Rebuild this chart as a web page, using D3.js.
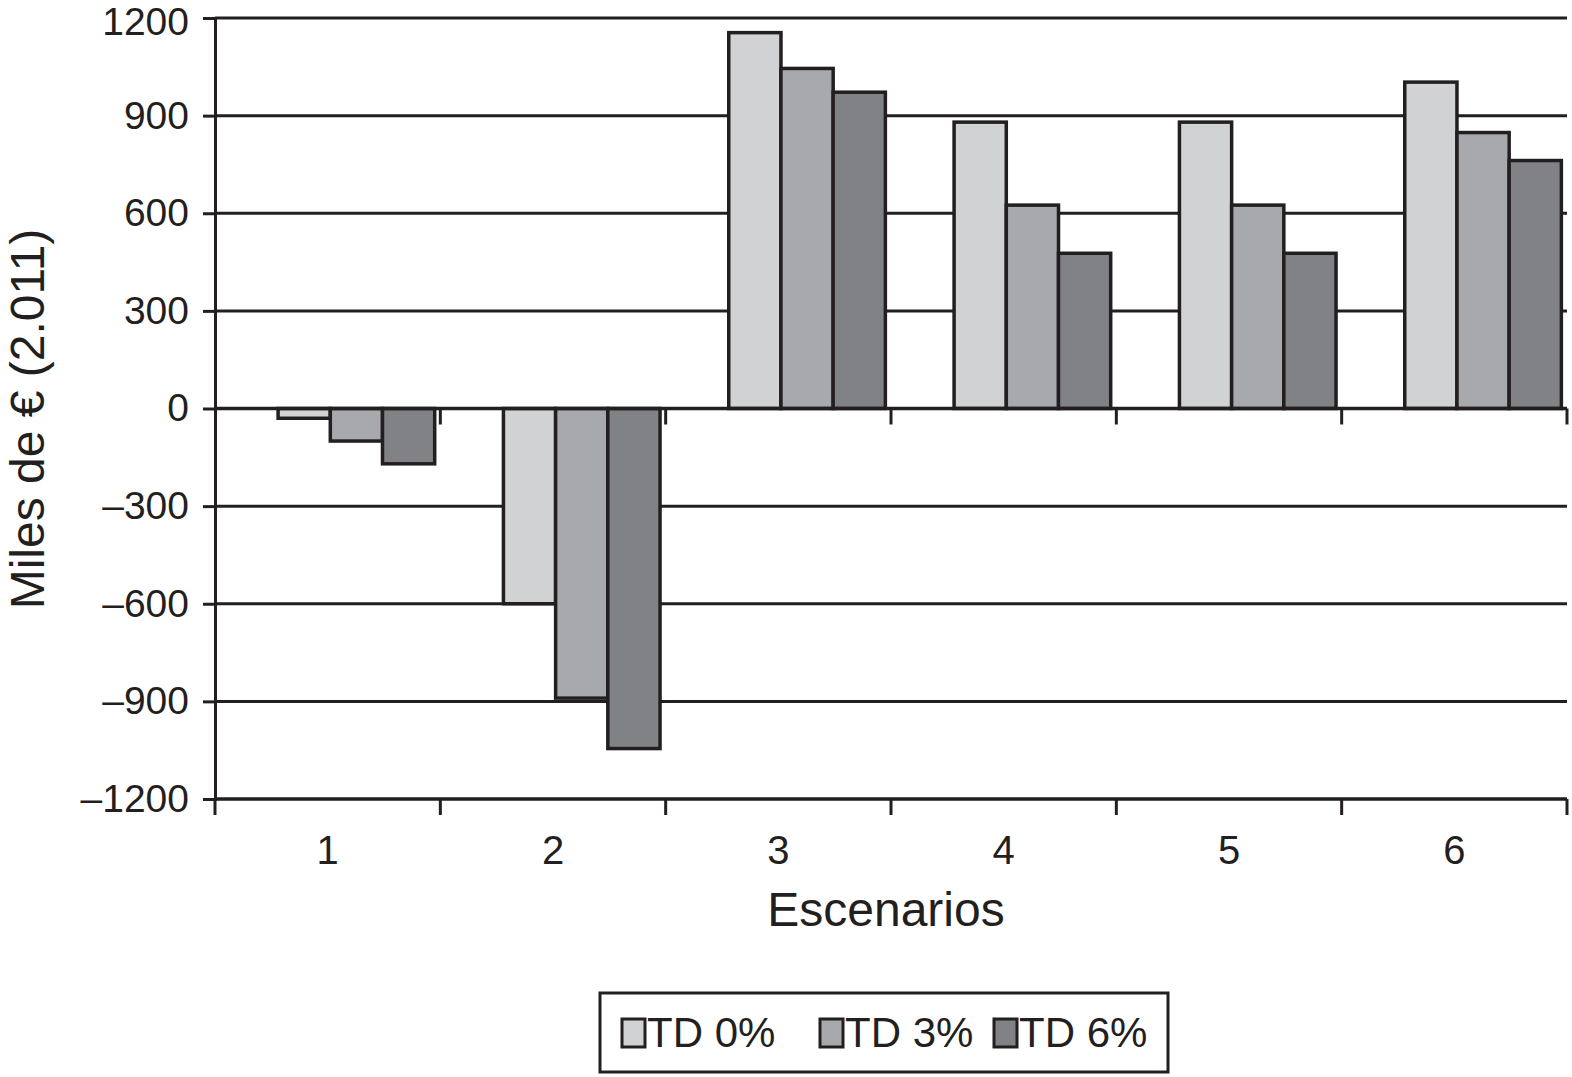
<!DOCTYPE html>
<html>
<head>
<meta charset="utf-8">
<script src="https://cdn.jsdelivr.net/npm/d3@7"></script>
<style>
  body { margin: 0; background: #fff; }
  svg { display: block; font-family: "Liberation Sans", Arial, sans-serif; }
</style>
</head>
<body>
<svg id="chart" width="1572" height="1077"></svg>
<script>
const categories = ['1', '2', '3', '4', '5', '6'];
const seriesNames = ['TD 0%', 'TD 3%', 'TD 6%'];
const td0 = [-30, -600, 1155, 880, 880, 1003];
const td3 = [-100, -890, 1045, 625, 625, 848];
const td6 = [-170, -1045, 972, 477, 477, 762];
const yTicks = [-1200, -900, -600, -300, 0, 300, 600, 900, 1200];
const colors = ['#d1d2d4', '#a8a9ac', '#818285'];

const values = [td0, td3, td6];
const ink = '#231f20';
const fontFamily = '"Liberation Sans", Arial, sans-serif';

const svg = d3.select('#chart');

const plotLeft = 215, plotRight = 1567, plotTop = 18, plotBottom = 799;

const x0 = d3.scaleBand()
    .domain(categories)
    .range([plotLeft, plotRight])
    .paddingInner(0);

const x1 = d3.scaleBand()
    .domain(seriesNames)
    .range([x0.bandwidth() * 0.28, x0.bandwidth() * 0.975]);

const y = d3.scaleLinear()
    .domain([-1200, 1200])
    .range([plotBottom, plotTop]);

// horizontal grid lines
svg.append('g')
    .selectAll('line')
    .data(yTicks)
    .enter()
    .append('line')
    .attr('x1', plotLeft)
    .attr('x2', plotRight)
    .attr('y1', d => y(d))
    .attr('y2', d => y(d))
    .attr('stroke', ink)
    .attr('stroke-width', 3);

const boundaries = categories.map(c => x0(c)).concat([plotRight]);

// ticks hanging from the zero line
svg.append('g')
    .selectAll('line')
    .data(boundaries.slice(1))
    .enter()
    .append('line')
    .attr('x1', d => d).attr('x2', d => d)
    .attr('y1', y(0)).attr('y2', y(0) + 16)
    .attr('stroke', ink).attr('stroke-width', 3);

// bars
const groups = svg.append('g')
    .selectAll('g')
    .data(categories)
    .enter()
    .append('g')
    .attr('transform', d => `translate(${x0(d)},0)`);

groups.selectAll('rect')
    .data((c, i) => seriesNames.map((s, j) => ({ s: s, j: j, v: values[j][i] })))
    .enter()
    .append('rect')
    .attr('x', d => x1(d.s))
    .attr('width', x1.bandwidth())
    .attr('y', d => y(Math.max(0, d.v)))
    .attr('height', d => Math.abs(y(d.v) - y(0)))
    .attr('fill', d => colors[d.j])
    .attr('stroke', ink)
    .attr('stroke-width', 3.5);

// zero line
svg.append('line')
    .attr('x1', plotLeft).attr('x2', plotRight)
    .attr('y1', y(0)).attr('y2', y(0))
    .attr('stroke', ink).attr('stroke-width', 3.5);

// bottom axis
const xAxis = svg.append('g')
    .attr('transform', `translate(0,${plotBottom})`)
    .call(d3.axisBottom(x0).tickSize(0).tickPadding(37));
xAxis.select('.domain').remove();
xAxis.selectAll('text')
    .attr('font-size', 40)
    .attr('fill', ink)
    .attr('font-family', fontFamily);

svg.append('line')
    .attr('x1', plotLeft).attr('x2', plotRight)
    .attr('y1', plotBottom).attr('y2', plotBottom)
    .attr('stroke', ink).attr('stroke-width', 3);

svg.append('g')
    .selectAll('line')
    .data(boundaries)
    .enter()
    .append('line')
    .attr('x1', d => d).attr('x2', d => d)
    .attr('y1', plotBottom).attr('y2', plotBottom + 16)
    .attr('stroke', ink).attr('stroke-width', 3);

// y axis
const yAxis = svg.append('g')
    .attr('transform', `translate(${plotLeft},0)`)
    .call(d3.axisLeft(y)
        .tickValues(yTicks)
        .tickSize(12)
        .tickPadding(14)
        .tickFormat(d => d < 0 ? '\u2013' + Math.abs(d) : String(d)));
yAxis.select('.domain')
    .attr('stroke', ink)
    .attr('stroke-width', 3);
yAxis.selectAll('.tick line')
    .attr('stroke', ink)
    .attr('stroke-width', 3);
yAxis.selectAll('text')
    .attr('font-size', 39)
    .attr('fill', ink)
    .attr('font-family', fontFamily);
yAxis.selectAll('.tick')
    .filter(d => d === 1200)
    .select('text')
    .attr('dy', '0.42em');

// axis titles
svg.append('text')
    .attr('transform', 'translate(44,419) rotate(-90)')
    .attr('text-anchor', 'middle')
    .attr('font-size', 48)
    .attr('fill', ink)
    .text('Miles de € (2.011)');

svg.append('text')
    .attr('x', 886)
    .attr('y', 926)
    .attr('text-anchor', 'middle')
    .attr('font-size', 48)
    .attr('fill', ink)
    .text('Escenarios');

// legend
const legend = svg.append('g');
legend.append('rect')
    .attr('x', 600).attr('y', 993)
    .attr('width', 568).attr('height', 79)
    .attr('fill', '#fff')
    .attr('stroke', ink).attr('stroke-width', 3);

const legendX = [622, 820, 994];
seriesNames.forEach((s, j) => {
    legend.append('rect')
        .attr('x', legendX[j]).attr('y', 1019)
        .attr('width', 23).attr('height', 28)
        .attr('fill', colors[j])
        .attr('stroke', ink).attr('stroke-width', 3);
    legend.append('text')
        .attr('x', legendX[j] + 25)
        .attr('y', 1047)
        .attr('font-size', 42)
        .attr('fill', ink)
        .text(s);
});
</script>
</body>
</html>
